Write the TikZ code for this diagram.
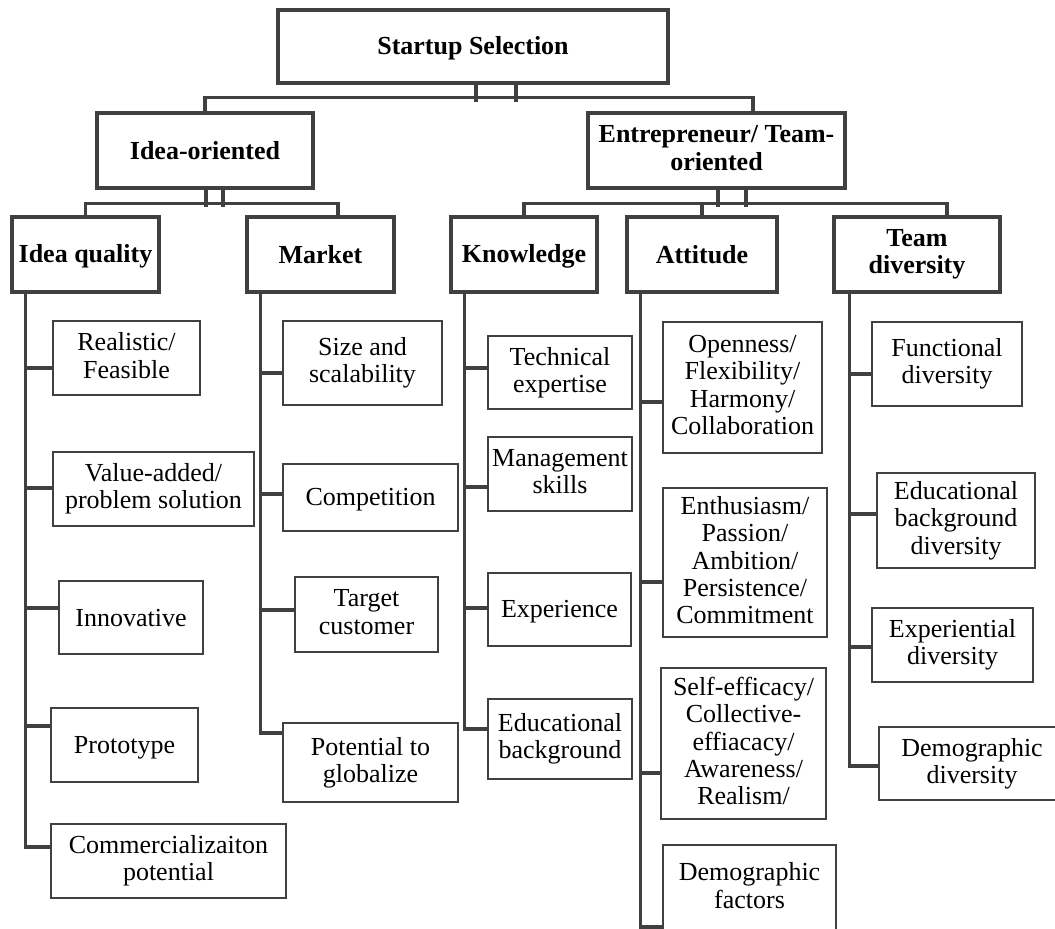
\documentclass[tikz,border=0pt]{standalone}
\usepackage{fontspec}
\setmainfont{Liberation Serif}
\definecolor{SSGray}{RGB}{64,64,64}
\newcommand{\ssstrut}{\rule[-3.7pt]{0pt}{20.2pt}}

\begin{document}
\begin{tikzpicture}[x=0.75pt, y=-0.75pt,
          wh/.style 2 args={minimum width=#1*0.75pt, minimum height=#2*0.75pt},
          topbx/.style={draw=SSGray, line width=3.4pt, align=center, inner sep=0pt,
                        font=\fontsize{19.5}{20.5}\selectfont\bfseries,
                        execute at begin node=\ssstrut, execute at end node=\ssstrut},
          headbx/.style={draw=SSGray, line width=2.5pt, align=center, inner sep=0pt,
                         font=\fontsize{19.5}{20.5}\selectfont\bfseries,
                         execute at begin node=\ssstrut, execute at end node=\ssstrut},
          leaf/.style={draw=SSGray, line width=2.2pt, align=center, inner sep=0pt,
                       font=\fontsize{19.5}{20.5}\selectfont,
                       execute at begin node=\ssstrut, execute at end node=\ssstrut},
          link/.style={draw=SSGray, line width=2.4pt}
        ]
        \useasboundingbox (0,0) rectangle (1055,928);
        \fill[white] (0,0) rectangle (1055,928);
        \clip (0,0) rectangle (1055,928);

        % TOP
        \node[topbx, wh={390}{73}] (root) at (473,46.5) {Startup Selection};
        \node[topbx, wh={216}{75}] (idea) at (205,150.5) {Idea-oriented};
        \node[topbx, wh={257}{75}] (team) at (716.5,150.5) {Entrepreneur/ Team-\\oriented};
        \draw[link] ([xshift=2.25pt]root.south) -- ++(0,17);
        \draw[link] ([xshift=32.25pt]root.south) -- ++(0,17);
        \draw[link] (idea.north) -- ++(0,-13) -| ([xshift=27.4pt]team.north);

        % LEVEL 2
        \node[headbx, wh={147}{75}] (iq)  at (85.5,254.5)  {Idea quality};
        \node[headbx, wh={147}{75}] (mkt) at (320.5,254.5) {Market};
        \node[headbx, wh={146}{75}] (knw) at (524,254.5)   {Knowledge};
        \node[headbx, wh={150}{75}] (att) at (702,254.5)   {Attitude};
        \node[headbx, wh={166}{75}] (tdv) at (917,254.5)   {Team\\diversity};
        \draw[link] ([xshift=0.75pt]idea.south) -- ++(0,17);
        \draw[link] ([xshift=13.5pt]idea.south) -- ++(0,17);
        \draw[link] (iq.north) -- ++(0,-12) -| ([xshift=13.1pt]mkt.north);
        \draw[link] ([xshift=1.1pt]team.south) -- ++(0,17);
        \draw[link] ([xshift=22.1pt]team.south) -- ++(0,17);
        \draw[link] (knw.north) -- ++(0,-12) -| ([xshift=22.5pt]tdv.north);
        \draw[link] (att.north) -- ++(0,-12);

        % IDEA QUALITY
        \node[leaf, wh={147}{74}] (rf)  at (126.5,358) {Realistic/\\Feasible};
        \node[leaf, wh={201}{74}] (va)  at (153.5,489) {Value-added/\\problem solution};
        \node[leaf, wh={144}{73}] (inn) at (131,617.5) {Innovative};
        \node[leaf, wh={147}{74}] (pro) at (124.5,745) {Prototype};
        \node[leaf, wh={235}{74}] (com) at (168.5,861) {Commercializaiton\\potential};
        \foreach \c/\y in {rf/368, va/488, inn/608, pro/726, com/847}
          \draw[link] ([xshift=11.25pt]iq.south west) |- (\c.west |- 0,\y);

        % MARKET
        \node[leaf, wh={159}{84}] (siz) at (362.5,363)   {Size and\\scalability};
        \node[leaf, wh={175}{67}] (cmp) at (370.5,497.5) {Competition};
        \node[leaf, wh={143}{75}] (tgt) at (366.5,614.5) {Target\\customer};
        \node[leaf, wh={175}{79}] (pot) at (370.5,762.5) {Potential to\\globalize};
        \foreach \c/\y in {siz/373, cmp/494, tgt/610, pot/733}
          \draw[link] ([xshift=11.25pt]mkt.south west) |- (\c.west |- 0,\y);

        % KNOWLEDGE
        \node[leaf, wh={144}{73}] (tec) at (560,372.5)   {Technical\\expertise};
        \node[leaf, wh={144}{74}] (mgt) at (560,474)     {Management\\skills};
        \node[leaf, wh={143}{73}] (exp) at (559.5,609.5) {Experience};
        \node[leaf, wh={144}{80}] (edu) at (560,739)     {Educational\\background};
        \foreach \c/\y in {tec/368, mgt/487, exp/608, edu/729}
          \draw[link] ([xshift=11.25pt]knw.south west) |- (\c.west |- 0,\y);

        % ATTITUDE
        \node[leaf, wh={159}{131}] (opn) at (742.5,387.5)
              {Openness/\\Flexibility/\\Harmony/\\Collaboration};
        \node[leaf, wh={164}{149}] (pas) at (745,562.5)
              {Enthusiasm/\\Passion/\\Ambition/\\Persistence/\\Commitment};
        \node[leaf, wh={165}{151}] (slf) at (743.5,743.5)
              {Self-efficacy/\\Collective-\\effiacacy/\\Awareness/\\Realism/};
        \node[leaf, wh={173}{86}]  (dmf) at (749.5,888) {Demographic\\factors};
        \foreach \c/\y in {opn/402, pas/582, slf/773, dmf/927}
          \draw[link] ([xshift=11.25pt]att.south west) |- (\c.west |- 0,\y);

        % TEAM DIVERSITY
        \node[leaf, wh={150}{84}] (fnc) at (947,364)     {Functional\\diversity};
        \node[leaf, wh={158}{95}] (edv) at (956,520.5)   {Educational\\background\\diversity};
        \node[leaf, wh={161}{74}] (xpd) at (952.5,645)   {Experiential\\diversity};
        \node[leaf, wh={186}{73}] (dmd) at (972,763.5)   {Demographic\\diversity};
        \foreach \c/\y in {fnc/374, edv/514, xpd/647, dmd/766}
          \draw[link] ([xshift=12.75pt]tdv.south west) |- (\c.west |- 0,\y);
      \end{tikzpicture}
\end{document}
